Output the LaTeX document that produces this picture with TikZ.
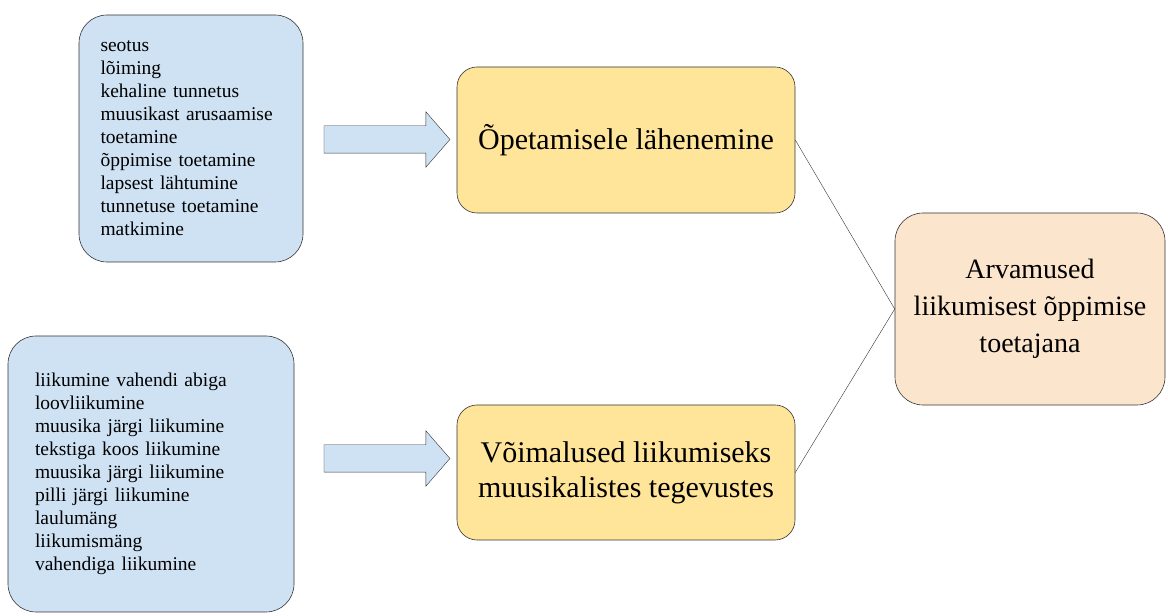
\documentclass[tikz,border=0pt]{standalone}
\usepackage{fontspec}
\setmainfont{Liberation Serif}
\usepackage{tikz}
\usetikzlibrary{shapes,arrows,positioning}

\definecolor{helesinine}{HTML}{CFE2F3}
\definecolor{kollane}{HTML}{FFE599}
\definecolor{oranz}{HTML}{FCE5CD}
\definecolor{joon}{HTML}{333333}

\begin{document}
\begin{tikzpicture}[x=1pt,y=1pt,semithick]
\tikzstyle{list}=[draw=joon,fill=helesinine,rounded corners=28pt,align=left,
  font=\fontsize{19.5}{23}\selectfont,inner xsep=0pt]
\tikzstyle{teema}=[draw=joon,fill=kollane,rounded corners=20pt,align=center,
  font=\fontsize{30}{35}\selectfont,minimum width=338pt]
\tikzstyle{tulem}=[draw=joon,fill=oranz,rounded corners=28pt,align=center,
  font=\fontsize{28}{37}\selectfont,minimum width=270pt,minimum height=192pt]
\tikzstyle{nool}=[single arrow,draw=joon,fill=helesinine,thin,minimum height=126pt,
  inner xsep=0pt,inner ysep=13.5pt,single arrow head extend=14pt,single arrow tip angle=98]
\useasboundingbox (0,0) rectangle (1168,616);
\node[list,text width=181pt,minimum width=224pt,minimum height=247pt] (tunnused) at (191,477.5)
  {seotus\\l\~oiming\\kehaline tunnetus\\muusikast arusaamise\\toetamine\\\~oppimise toetamine\\lapsest l\"ahtumine\\tunnetuse toetamine\\matkimine};
\node[list,text width=232pt,minimum width=286pt,minimum height=276pt] (tegevused) at (151,142)
  {liikumine vahendi abiga\\loovliikumine\\muusika j\"argi liikumine\\tekstiga koos liikumine\\muusika j\"argi liikumine\\pilli j\"argi liikumine\\laulum\"ang\\liikumism\"ang\\vahendiga liikumine};
\node[teema,minimum height=146pt] (lahene) at (626,476) {\~Opetamisele l\"ahenemine};
\node[teema,minimum height=135pt] (voimalus) at (626,143.5) {V\~oimalused liikumiseks\\muusikalistes tegevustes};
\node[tulem] (arvamus) at (1030,307) {Arvamused\\liikumisest \~oppimise\\toetajana};
\node[nool] (nool1) at (381,476.5) {};
\node[nool] (nool2) at (381,157.5) {};
\draw[joon,thin] (lahene.east) -- (arvamus.west);
\draw[joon,thin] (voimalus.east) -- (arvamus.west);
\end{tikzpicture}
\end{document}
